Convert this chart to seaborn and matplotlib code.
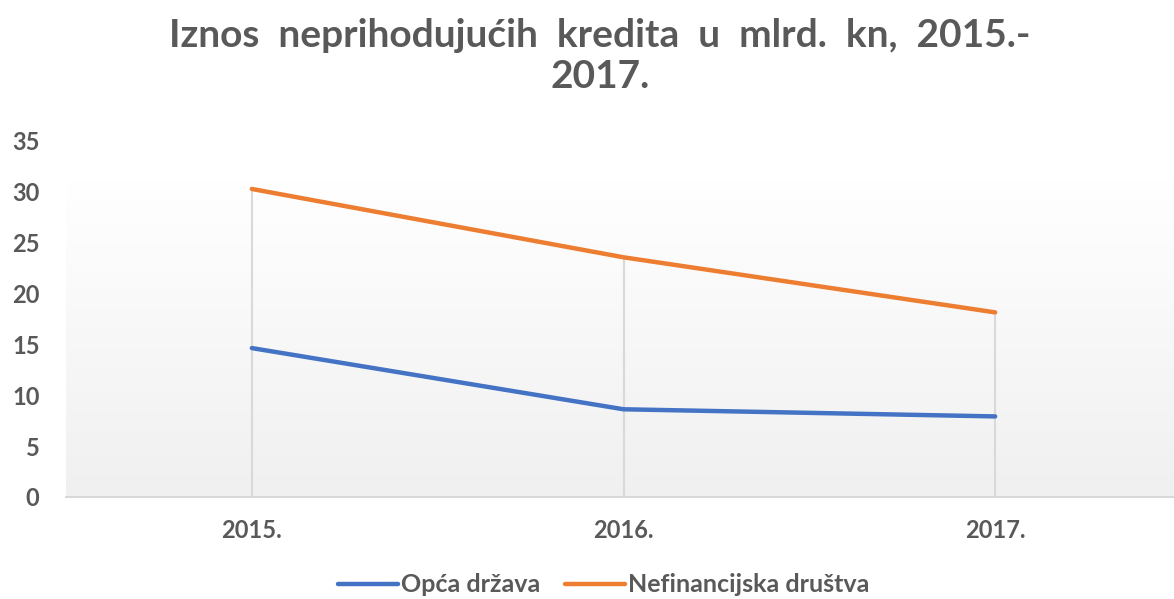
import numpy as np
import pandas as pd
import matplotlib
matplotlib.use("Agg")
import matplotlib.pyplot as plt
import seaborn as sns
from matplotlib.lines import Line2D

# data
years = ["2015.", "2016.", "2017."]
opca_drzava = [14.6, 8.6, 7.9]
nefinancijska = [30.2, 23.5, 18.1]
series_names = ["Opća država", "Nefinancijska društva"]
colors = ["#4472C4", "#ED7D31"]
title = "Iznos  neprihodujućih  kredita  u  mlrd.  kn,  2015.-\n2017."

df = pd.DataFrame({
    "year": years * 2,
    "value": opca_drzava + nefinancijska,
    "series": [series_names[0]] * 3 + [series_names[1]] * 3,
})

sns.set_theme(style="white")
plt.rcParams["font.family"] = ["Lato", "DejaVu Sans"]
grey = "#595959"

fig = plt.figure(figsize=(11.74, 5.99), dpi=100)
ax = fig.add_axes([66 / 1174, 1 - 497 / 599, (1181 - 66) / 1174, (497 - 140) / 599])

# gradient plot background
grad = np.linspace(1, 0, 256).reshape(-1, 1)
cmap = matplotlib.colors.LinearSegmentedColormap.from_list("g", ["#f0f0f0", "#ffffff"])
ax.imshow(grad, extent=[-0.5, 2.5, 0, 31], aspect="auto", cmap=cmap, zorder=0)

# drop lines from axis to the highest point
tops = np.maximum(opca_drzava, nefinancijska)
ax.vlines(range(len(years)), 0, tops, color="#d9d9d9", lw=1.5, zorder=1)

sns.lineplot(data=df, x="year", y="value", hue="series", palette=colors, lw=3.2,
             sort=False, legend=False, ax=ax, zorder=3)

ax.set_xlim(-0.5, 2.5)
ax.set_ylim(0, 35)
ax.set_yticks(range(0, 36, 5))
ax.set_xlabel("")
ax.set_ylabel("")
for s in ["top", "right", "left"]:
    ax.spines[s].set_visible(False)
ax.spines["bottom"].set_color("#d9d9d9")
ax.spines["bottom"].set_linewidth(1.5)
ax.tick_params(axis="both", length=0, colors=grey, labelsize=17)
ax.tick_params(axis="x", pad=16)
ax.tick_params(axis="y", pad=19)
for lab in ax.get_xticklabels() + ax.get_yticklabels():
    lab.set_fontweight("bold")

fig.text(600 / 1174, 1 - 56 / 599, title, ha="center", va="center", fontsize=28,
         fontweight="bold", color=grey, linespacing=1.2)

handles = [Line2D([0], [0], color=c, lw=3.2) for c in colors]
fig.legend(handles, series_names, loc="center", bbox_to_anchor=(604 / 1174, 1 - 585 / 599),
           ncol=2, frameon=False, handlelength=2.4, handletextpad=0.12, columnspacing=1.0,
           prop={"weight": "bold", "size": 18}, labelcolor=grey)

fig.savefig("out.png", dpi=100)
